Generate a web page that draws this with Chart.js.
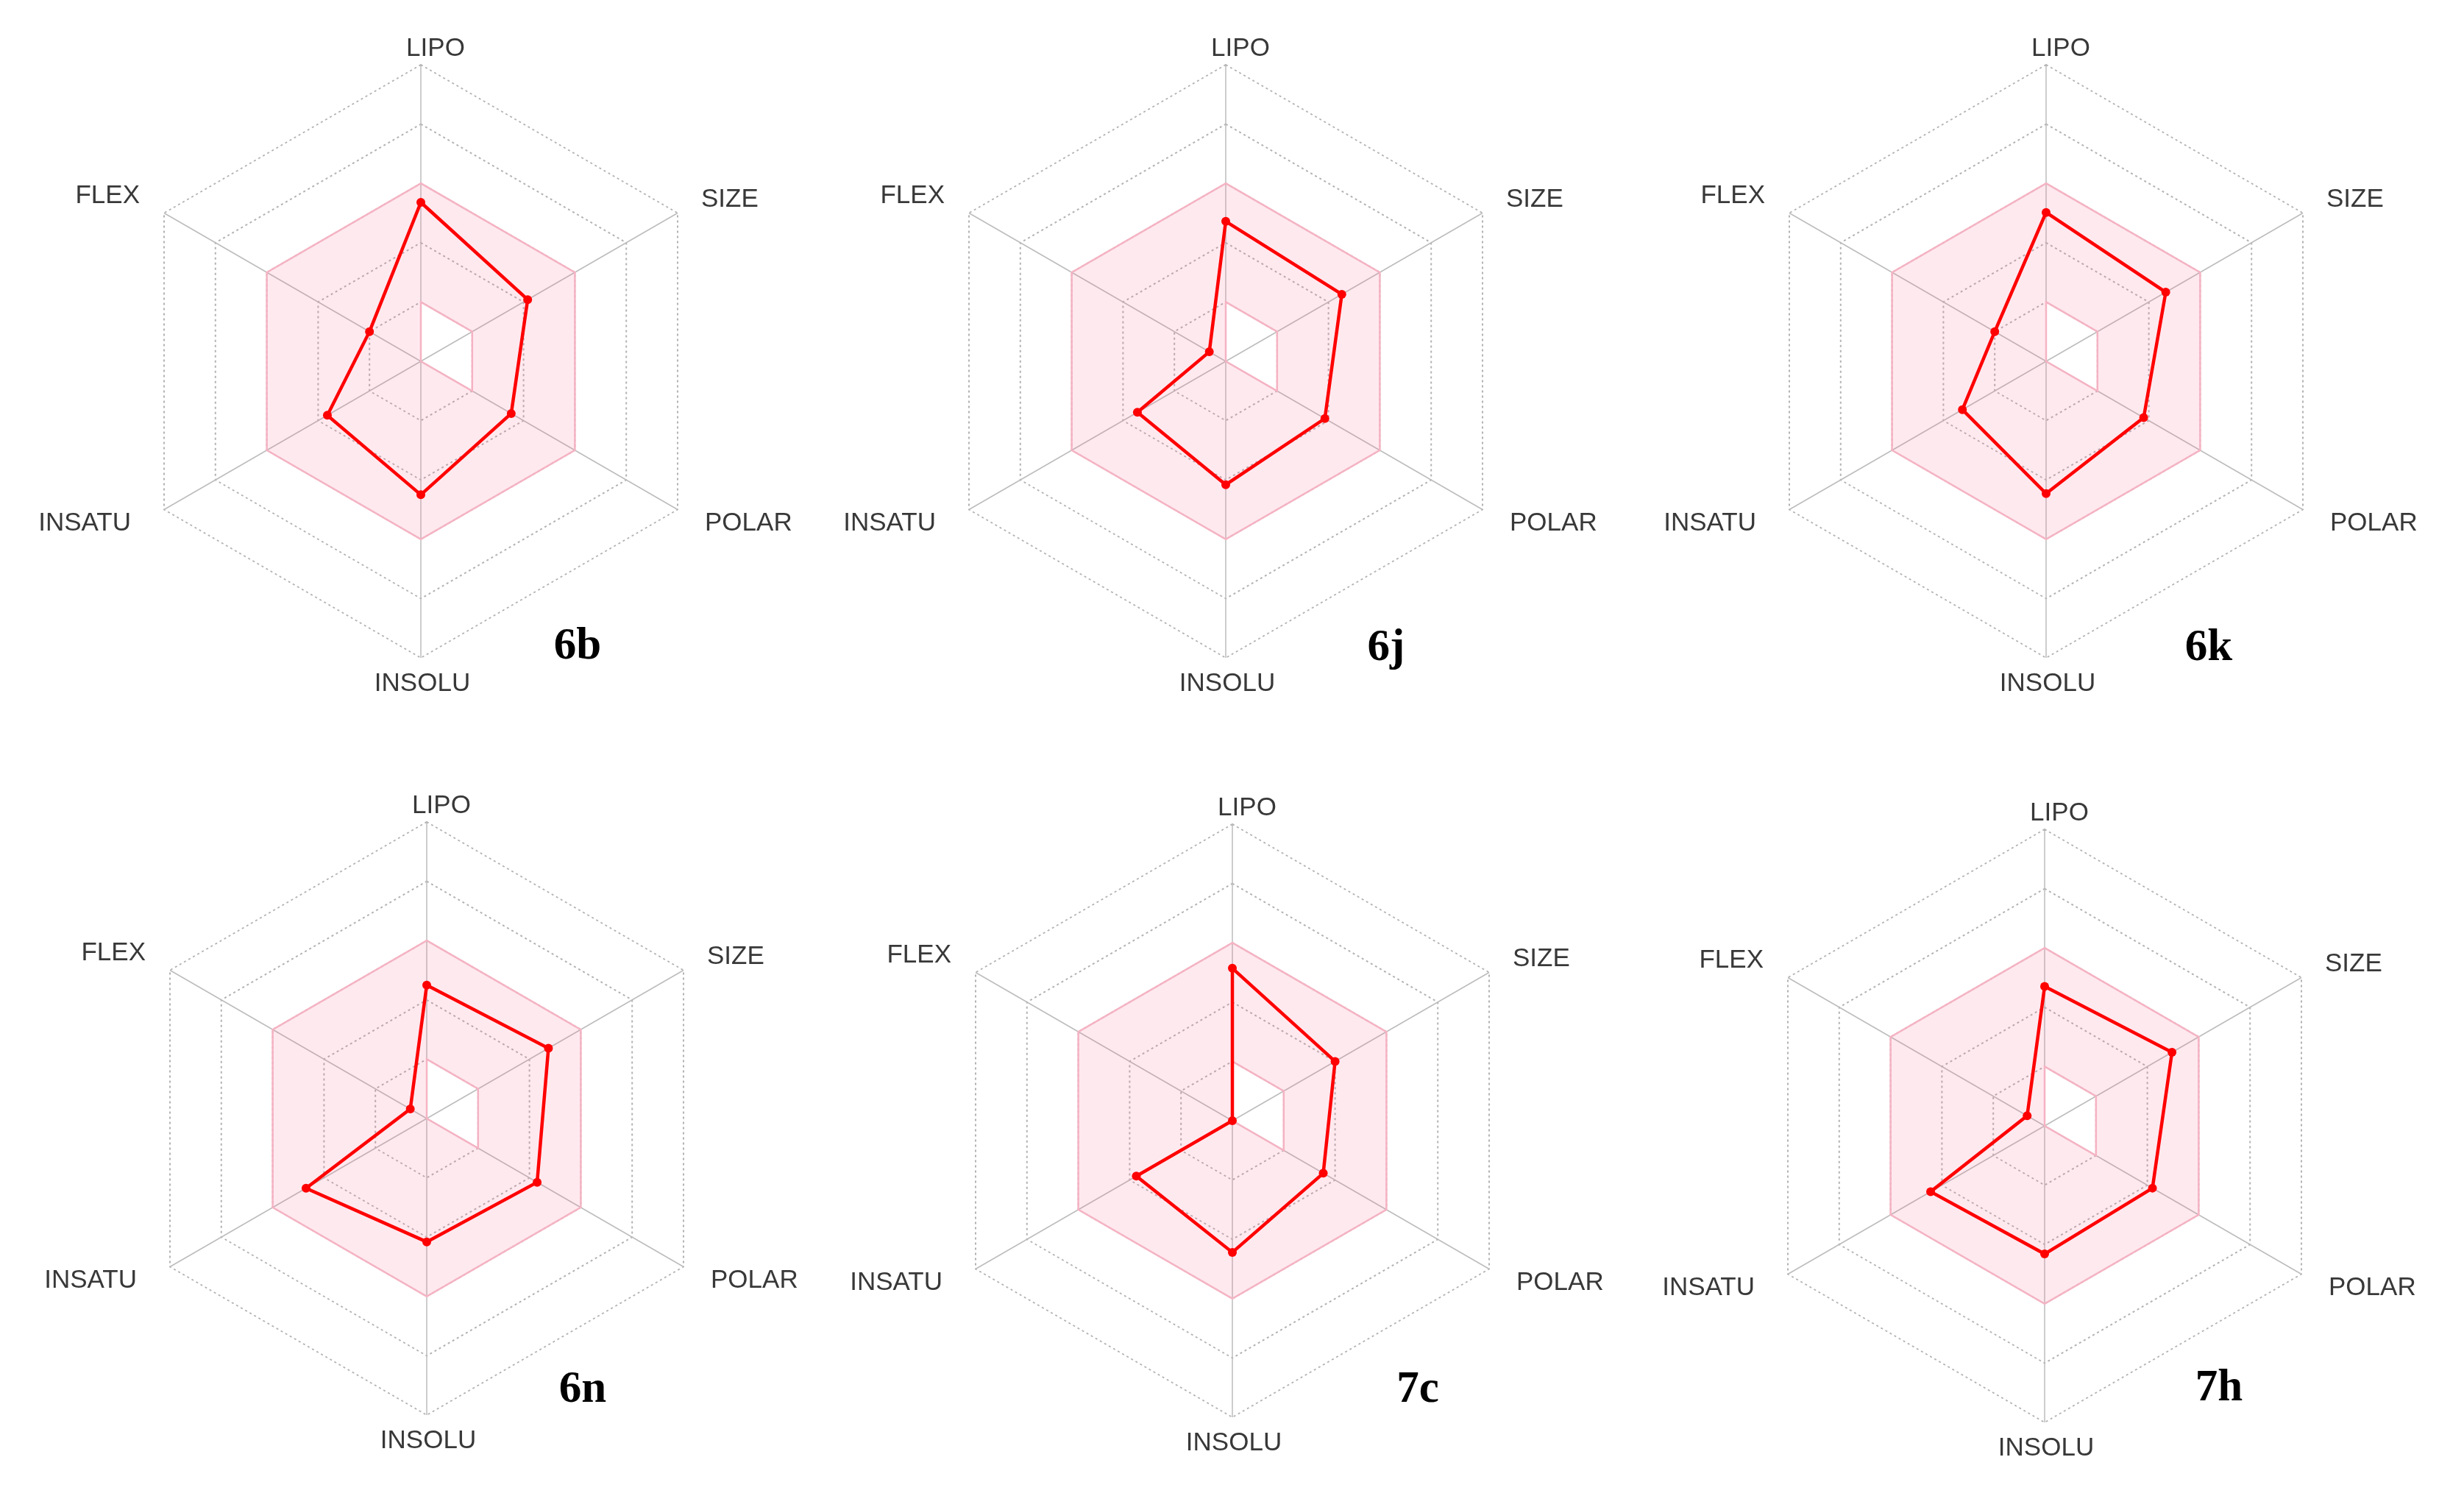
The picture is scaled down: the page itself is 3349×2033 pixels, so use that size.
<!DOCTYPE html>
<html>
<head>
<meta charset="utf-8">
<title>Radares de biodisponibilidade</title>
<script src="https://cdn.jsdelivr.net/npm/chart.js@4.4.1/dist/chart.umd.min.js"></script>
<style>
    html, body { margin: 0; padding: 0; background: #ffffff; }
    body { width: 3349px; height: 2033px; position: relative; overflow: hidden; }
    .painel { position: absolute; width: 1100px; height: 1000px; }
</style>
</head>
<body>
<div class="painel" id="p0"><canvas id="c0"></canvas></div>
<div class="painel" id="p1"><canvas id="c1"></canvas></div>
<div class="painel" id="p2"><canvas id="c2"></canvas></div>
<div class="painel" id="p3"><canvas id="c3"></canvas></div>
<div class="painel" id="p4"><canvas id="c4"></canvas></div>
<div class="painel" id="p5"><canvas id="c5"></canvas></div>
<script>
// Eixos do radar (sentido horário a partir do topo)
var eixos = ['LIPO', 'SIZE', 'POLAR', 'INSOLU', 'INSATU', 'FLEX'];

// Nome de cada composto
var compostos = ['6b', '6j', '6k', '6n', '7c', '7h'];

// Valores (escala 0 a 5, um anel por unidade)
var valores6b = [2.68, 2.08, 1.76, 2.25, 1.82, 1.00];
var valores6j = [2.36, 2.26, 1.93, 2.08, 1.72, 0.32];
var valores6k = [2.51, 2.33, 1.90, 2.23, 1.63, 1.00];
var valores6n = [2.25, 2.37, 2.15, 2.08, 2.35, 0.32];
var valores7c = [2.57, 2.00, 1.77, 2.22, 1.87, 0.00];
var valores7h = [2.35, 2.48, 2.10, 2.16, 2.22, 0.34];

// Faixa ótima (área rosa): limite interno e externo
var faixaMin = [1, 1, 1, 0, 0, 0];
var faixaMax = [3, 3, 3, 3, 3, 3];

// Marcas da escala radial
var escalaMin = 0;
var escalaMax = 5;
var escalaPasso = 1;

var todosValores = [valores6b, valores6j, valores6k, valores6n, valores7c, valores7h];

// Centro de cada radar na página
var centros = [[572, 491], [1666, 491], [2781, 491], [580, 1520], [1675, 1523], [2779, 1530]];

// Posição do nome do composto em relação ao centro
var posNome = [[213, 404], [218, 406], [221, 406], [212, 385], [252, 382], [237, 373]];

// Ajuste dos rótulos dos eixos em relação ao vértice externo
var ajusteRotulos = [
    [20, -22, 'center'],
    [32, -18, 'left'],
    [37, 19, 'left'],
    [2, 35, 'center'],
    [-45, 19, 'right'],
    [-33, -23, 'right']
];

var RAIO = 403;

// Plugin que escreve os rótulos dos eixos e o nome do composto
var rotulosPlugin = {
    id: 'rotulos',
    afterDraw: function(chart, args, opcoes) {
        var escala = chart.scales.r;
        var ctx = chart.ctx;
        ctx.save();
        ctx.font = '35px "Liberation Sans", Arial, sans-serif';
        ctx.fillStyle = '#383838';
        ctx.textBaseline = 'middle';
        eixos.forEach(function(nome, i) {
            var p = escala.getPointPosition(i, escala.drawingArea);
            var a = ajusteRotulos[i];
            ctx.textAlign = a[2];
            ctx.fillText(nome, p.x + a[0], p.y + a[1]);
        });
        ctx.font = 'bold 61px "Liberation Serif", "Times New Roman", serif';
        ctx.fillStyle = '#000000';
        ctx.textAlign = 'center';
        ctx.textBaseline = 'alphabetic';
        ctx.fillText(opcoes.texto, escala.xCenter + opcoes.dx, escala.yCenter + opcoes.dy);
        ctx.restore();
    }
};

function criarRadar(i) {
    var painel = document.getElementById('p' + i);
    painel.style.left = (centros[i][0] - 550) + 'px';
    painel.style.top = (centros[i][1] - 500) + 'px';

    var folgaX = 550 - RAIO;
    var folgaY = 500 - RAIO;

    var configuracao = {
        type: 'radar',
        data: {
            labels: eixos,
            datasets: [
                {
                    data: todosValores[i],
                    borderColor: '#ff0000',
                    backgroundColor: '#ff0000',
                    borderWidth: 4.5,
                    pointRadius: 6,
                    pointBackgroundColor: '#ff0000',
                    pointBorderColor: '#ff0000',
                    pointBorderWidth: 0,
                    fill: false,
                    order: 0
                },
                {
                    data: faixaMin,
                    borderColor: '#f5b3c3',
                    borderWidth: 2.5,
                    pointRadius: 0,
                    fill: false,
                    order: 1
                },
                {
                    data: faixaMax,
                    borderColor: '#f5b3c3',
                    borderWidth: 2.5,
                    pointRadius: 0,
                    backgroundColor: 'rgba(248, 110, 145, 0.15)',
                    fill: '-1',
                    order: 2
                }
            ]
        },
        options: {
            responsive: true,
            maintainAspectRatio: false,
            animation: false,
            events: [],
            layout: {
                padding: { left: folgaX, right: folgaX, top: folgaY, bottom: folgaY }
            },
            elements: { line: { tension: 0 } },
            scales: {
                r: {
                    min: escalaMin,
                    max: escalaMax,
                    beginAtZero: true,
                    ticks: { display: false, stepSize: escalaPasso },
                    grid: { color: '#b3b3b3', lineWidth: 2 },
                    border: { dash: [3, 4] },
                    angleLines: { color: '#bcbcbc', lineWidth: 1.5 },
                    pointLabels: { display: false }
                }
            },
            plugins: {
                legend: { display: false },
                tooltip: { enabled: false },
                rotulos: { texto: compostos[i], dx: posNome[i][0], dy: posNome[i][1] }
            }
        },
        plugins: [rotulosPlugin]
    };

    new Chart(document.getElementById('c' + i).getContext('2d'), configuracao);
}

for (var i = 0; i < compostos.length; i++) {
    criarRadar(i);
}
</script>
</body>
</html>
